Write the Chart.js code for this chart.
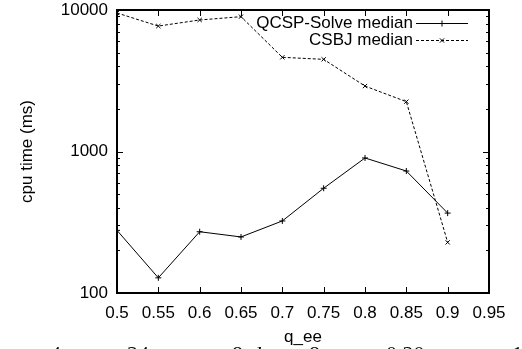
<!DOCTYPE html>
<html>
<head>
<meta charset="utf-8">
<script src="https://cdn.jsdelivr.net/npm/chart.js@4/dist/chart.umd.min.js"></script>
<style>
  html, body { margin: 0; padding: 0; background: #fff; overflow: hidden; }
  #wrap { position: relative; width: 522px; height: 349px; }
  #chart { position: absolute; left: 0; top: 0; }
  .cap { position: absolute; top: 343px; font-family: "Liberation Serif", serif; font-size: 22px; line-height: 22px; color: #000; white-space: nowrap; }
  .cap i { font-style: italic; }
</style>
</head>
<body>
<div id="wrap">
  <canvas id="chart" width="522" height="349"></canvas>
  <span class="cap" style="left:50px">4</span>
  <span class="cap" style="left:127px">24</span>
  <span class="cap" style="left:232px">8</span>
  <span class="cap" style="left:250px"><i>d</i></span>
  <span class="cap" style="left:309px">8</span>
  <span class="cap" style="left:386px">0.20</span>
  <span class="cap" style="left:512px">1</span>
</div>
<script>
// values (log scale, ms)
const xValues = [0.5, 0.55, 0.6, 0.65, 0.7, 0.75, 0.8, 0.85, 0.9];
const qcspMedian = [277, 128, 271, 249, 323, 550, 900, 728, 367];
const csbjMedian = [9530, 7700, 8500, 8970, 4630, 4480, 2900, 2250, 228];
const seriesLabels = ['QCSP-Solve median', 'CSBJ median'];

const xTicks = [0.5, 0.55, 0.6, 0.65, 0.7, 0.75, 0.8, 0.85, 0.9, 0.95];
const xTickLabels = ['0.5', '0.55', '0.6', '0.65', '0.7', '0.75', '0.8', '0.85', '0.9', '0.95'];
const yTicks = [100, 1000, 10000];
const yTickLabels = ['100', '1000', '10000'];

const FONT = '"Liberation Sans", Arial, sans-serif';

const toPoints = (ys) => ys.map((y, i) => ({ x: xValues[i], y: y }));

const noPad = (s) => { s.paddingTop = 0; s.paddingBottom = 0; s.paddingLeft = 0; s.paddingRight = 0; };

// gnuplot style box with inward ticks on all four sides
const frame = {
  id: 'frame',
  afterDraw(chart) {
    const { ctx, chartArea: a, scales: { x, y } } = chart;
    ctx.save();
    ctx.strokeStyle = '#000';
    ctx.lineWidth = 1;
    ctx.beginPath();
    xTicks.forEach(v => {
      const px = Math.round(x.getPixelForValue(v)) + 0.5;
      ctx.moveTo(px, a.bottom); ctx.lineTo(px, a.bottom - 6);
      ctx.moveTo(px, a.top); ctx.lineTo(px, a.top + 6);
    });
    const yTick = (v, len) => {
      const py = Math.round(y.getPixelForValue(v)) + 0.5;
      ctx.moveTo(a.left, py); ctx.lineTo(a.left + len, py);
      ctx.moveTo(a.right, py); ctx.lineTo(a.right - len, py);
    };
    yTicks.forEach(v => yTick(v, 6));
    for (let i = 0; i < yTicks.length - 1; i++) {
      for (let k = 2; k <= 9; k++) yTick(yTicks[i] * k, 3);
    }
    ctx.stroke();
    ctx.lineWidth = 2;
    ctx.strokeRect(a.left, a.top, a.right - a.left, a.bottom - a.top);
    ctx.restore();
  }
};

// legend: label right-aligned, sample line to its right
const keyBox = {
  id: 'keyBox',
  afterDraw(chart) {
    const { ctx, chartArea: a } = chart;
    ctx.save();
    ctx.font = '17px ' + FONT;
    ctx.fillStyle = '#000';
    ctx.textAlign = 'right';
    ctx.textBaseline = 'middle';
    chart.data.datasets.forEach((ds, i) => {
      const yy = a.top + 13 + i * 17;
      ctx.fillText(ds.label, a.right - 76, yy);
      const x0 = a.right - 73, x1 = a.right - 21;
      ctx.strokeStyle = '#000';
      ctx.lineWidth = 1;
      ctx.setLineDash(ds.borderDash || []);
      ctx.beginPath();
      ctx.moveTo(x0, yy + 0.5); ctx.lineTo(x1, yy + 0.5);
      ctx.stroke();
      ctx.setLineDash([]);
      Chart.helpers.drawPoint(ctx, { pointStyle: ds.pointStyle, radius: 3, rotation: 0, borderWidth: 1 }, (x0 + x1) / 2, yy + 0.5);
    });
    ctx.restore();
  }
};

new Chart(document.getElementById('chart'), {
  type: 'line',
  data: {
    datasets: [
      {
        label: seriesLabels[0],
        data: toPoints(qcspMedian),
        borderColor: '#000',
        backgroundColor: '#000',
        borderWidth: 1,
        pointStyle: 'cross',
        pointRadius: 3,
        pointBorderWidth: 1,
        tension: 0,
        fill: false
      },
      {
        label: seriesLabels[1],
        data: toPoints(csbjMedian),
        borderColor: '#000',
        backgroundColor: '#000',
        borderWidth: 1,
        borderDash: [3, 2],
        pointStyle: 'crossRot',
        pointRadius: 3,
        pointBorderWidth: 1,
        tension: 0,
        fill: false
      }
    ]
  },
  options: {
    responsive: false,
    animation: false,
    devicePixelRatio: 1,
    layout: { padding: { left: 0, top: 10, right: 33, bottom: 0 } },
    plugins: { legend: { display: false }, tooltip: { enabled: false } },
    scales: {
      x: {
        type: 'linear',
        min: 0.5,
        max: 0.95,
        grid: { display: false, drawTicks: false },
        border: { display: false },
        afterBuildTicks: (s) => { s.ticks = xTicks.map(v => ({ value: v })); },
        afterFit: (s) => { s.height = 56; noPad(s); },
        ticks: {
          autoSkip: false,
          maxRotation: 0,
          padding: 10,
          color: '#000',
          font: { family: FONT, size: 17 },
          callback: (v, i) => xTickLabels[i]
        },
        title: {
          display: true,
          text: 'q_ee',
          color: '#000',
          font: { family: FONT, size: 17 },
          padding: { top: 0, bottom: 1 }
        }
      },
      y: {
        type: 'logarithmic',
        min: 100,
        max: 10000,
        grid: { display: false, drawTicks: false },
        border: { display: false },
        afterBuildTicks: (s) => { s.ticks = yTicks.map(v => ({ value: v })); },
        afterFit: (s) => { s.width = 117; noPad(s); },
        ticks: {
          autoSkip: false,
          padding: 9,
          color: '#000',
          font: { family: FONT, size: 17 },
          callback: (v, i) => yTickLabels[i]
        },
        title: {
          display: true,
          text: 'cpu time (ms)',
          color: '#000',
          font: { family: FONT, size: 17 },
          padding: { top: 17, bottom: 0 }
        }
      }
    }
  },
  plugins: [frame, keyBox]
});
</script>
</body>
</html>
